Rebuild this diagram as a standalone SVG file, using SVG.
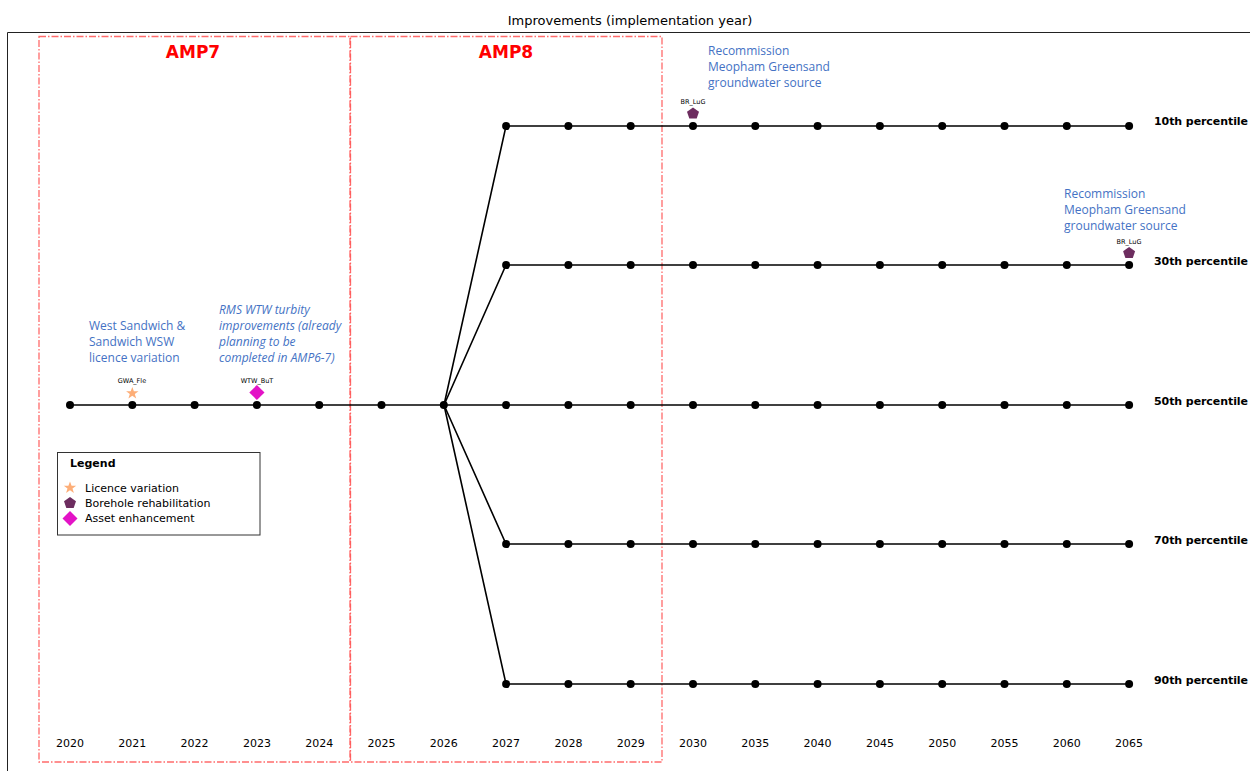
<svg xmlns="http://www.w3.org/2000/svg" width="1250" height="771" viewBox="0 0 1250 771">
<style>
.ax{fill:none;stroke:#222;stroke-width:1}
.amp{fill:none;stroke:#ff5050;stroke-opacity:0.85;stroke-width:1.3;stroke-dasharray:7,2,1.5,2}
.amptxt{font-family:"DejaVu Sans",sans-serif;font-weight:bold;font-size:17px;fill:#ff0000;text-anchor:middle}
.title{font-family:"DejaVu Sans",sans-serif;font-size:13px;fill:#000;text-anchor:middle}
.yr{font-family:"DejaVu Sans",sans-serif;font-size:11px;fill:#000;text-anchor:middle}
.pct{font-family:"DejaVu Sans",sans-serif;font-size:11px;font-weight:bold;fill:#000}
.ln{stroke:#000;stroke-width:1.6;fill:none}
.dot{fill:#000}
.ann{font-family:"Open Sans","Liberation Sans",sans-serif;font-size:12px;fill:#4472c4}
.ital{font-style:italic}
.tag{font-family:"DejaVu Sans",sans-serif;font-size:6.5px;fill:#000;text-anchor:middle}
.leg{font-family:"DejaVu Sans",sans-serif;font-size:11px;fill:#000}
.star{fill:#fdae78}
.pent{fill:#6d2d5f}
.dia{fill:#e313c6}
</style>
<rect width="1250" height="771" fill="#fff"/>
<text class="title" x="630" y="25">Improvements (implementation year)</text>
<path class="ax" d="M7.5,771 V32.5 H1250"/>
<g id="amp7"><rect class="amp" x="39" y="36.5" width="311" height="725.5"/><text class="amptxt" x="193" y="58">AMP7</text></g>
<g id="amp8"><rect class="amp" x="350.5" y="36.5" width="311.5" height="725.5"/><text class="amptxt" x="506" y="58">AMP8</text></g>
<g id="connectors">
<path class="ln" d="M70,405 H1129"/>
<path class="ln" d="M444,405 L506,126 H1129"/>
<path class="ln" d="M444,405 L506,265 H1129"/>
<path class="ln" d="M444,405 L506,544 H1129"/>
<path class="ln" d="M444,405 L506,684 H1129"/>
</g>
<g id="nodes-50">
<circle class="dot" cx="70" cy="405" r="4"/><circle class="dot" cx="132.3" cy="405" r="4"/><circle class="dot" cx="194.6" cy="405" r="4"/><circle class="dot" cx="256.9" cy="405" r="4"/><circle class="dot" cx="319.2" cy="405" r="4"/><circle class="dot" cx="381.5" cy="405" r="4"/><circle class="dot" cx="443.8" cy="405" r="4"/><circle class="dot" cx="506.1" cy="405" r="4"/><circle class="dot" cx="568.4" cy="405" r="4"/><circle class="dot" cx="630.7" cy="405" r="4"/><circle class="dot" cx="693" cy="405" r="4"/><circle class="dot" cx="755.3" cy="405" r="4"/><circle class="dot" cx="817.6" cy="405" r="4"/><circle class="dot" cx="879.9" cy="405" r="4"/><circle class="dot" cx="942.2" cy="405" r="4"/><circle class="dot" cx="1004.5" cy="405" r="4"/><circle class="dot" cx="1066.8" cy="405" r="4"/><circle class="dot" cx="1129.1" cy="405" r="4"/>
</g>
<g id="nodes-10">
<circle class="dot" cx="506.1" cy="126" r="4"/><circle class="dot" cx="568.4" cy="126" r="4"/><circle class="dot" cx="630.7" cy="126" r="4"/><circle class="dot" cx="693" cy="126" r="4"/><circle class="dot" cx="755.3" cy="126" r="4"/><circle class="dot" cx="817.6" cy="126" r="4"/><circle class="dot" cx="879.9" cy="126" r="4"/><circle class="dot" cx="942.2" cy="126" r="4"/><circle class="dot" cx="1004.5" cy="126" r="4"/><circle class="dot" cx="1066.8" cy="126" r="4"/><circle class="dot" cx="1129.1" cy="126" r="4"/>
</g>
<g id="nodes-30">
<circle class="dot" cx="506.1" cy="265" r="4"/><circle class="dot" cx="568.4" cy="265" r="4"/><circle class="dot" cx="630.7" cy="265" r="4"/><circle class="dot" cx="693" cy="265" r="4"/><circle class="dot" cx="755.3" cy="265" r="4"/><circle class="dot" cx="817.6" cy="265" r="4"/><circle class="dot" cx="879.9" cy="265" r="4"/><circle class="dot" cx="942.2" cy="265" r="4"/><circle class="dot" cx="1004.5" cy="265" r="4"/><circle class="dot" cx="1066.8" cy="265" r="4"/><circle class="dot" cx="1129.1" cy="265" r="4"/>
</g>
<g id="nodes-70">
<circle class="dot" cx="506.1" cy="544" r="4"/><circle class="dot" cx="568.4" cy="544" r="4"/><circle class="dot" cx="630.7" cy="544" r="4"/><circle class="dot" cx="693" cy="544" r="4"/><circle class="dot" cx="755.3" cy="544" r="4"/><circle class="dot" cx="817.6" cy="544" r="4"/><circle class="dot" cx="879.9" cy="544" r="4"/><circle class="dot" cx="942.2" cy="544" r="4"/><circle class="dot" cx="1004.5" cy="544" r="4"/><circle class="dot" cx="1066.8" cy="544" r="4"/><circle class="dot" cx="1129.1" cy="544" r="4"/>
</g>
<g id="nodes-90">
<circle class="dot" cx="506.1" cy="684" r="4"/><circle class="dot" cx="568.4" cy="684" r="4"/><circle class="dot" cx="630.7" cy="684" r="4"/><circle class="dot" cx="693" cy="684" r="4"/><circle class="dot" cx="755.3" cy="684" r="4"/><circle class="dot" cx="817.6" cy="684" r="4"/><circle class="dot" cx="879.9" cy="684" r="4"/><circle class="dot" cx="942.2" cy="684" r="4"/><circle class="dot" cx="1004.5" cy="684" r="4"/><circle class="dot" cx="1066.8" cy="684" r="4"/><circle class="dot" cx="1129.1" cy="684" r="4"/>
</g>
<g id="percentiles">
<text class="pct" x="1154" y="125" textLength="94">10th percentile</text>
<text class="pct" x="1154" y="265" textLength="94">30th percentile</text>
<text class="pct" x="1154" y="405" textLength="94">50th percentile</text>
<text class="pct" x="1154" y="544" textLength="94">70th percentile</text>
<text class="pct" x="1154" y="684" textLength="94">90th percentile</text>
</g>
<g id="years">
<text class="yr" x="70" y="747">2020</text><text class="yr" x="132.3" y="747">2021</text><text class="yr" x="194.6" y="747">2022</text><text class="yr" x="256.9" y="747">2023</text><text class="yr" x="319.2" y="747">2024</text><text class="yr" x="381.5" y="747">2025</text><text class="yr" x="443.8" y="747">2026</text><text class="yr" x="506.1" y="747">2027</text><text class="yr" x="568.4" y="747">2028</text><text class="yr" x="630.7" y="747">2029</text><text class="yr" x="693" y="747">2030</text><text class="yr" x="755.3" y="747">2035</text><text class="yr" x="817.6" y="747">2040</text><text class="yr" x="879.9" y="747">2045</text><text class="yr" x="942.2" y="747">2050</text><text class="yr" x="1004.5" y="747">2055</text><text class="yr" x="1066.8" y="747">2060</text><text class="yr" x="1129.1" y="747">2065</text>
</g>
<g id="gwa">
<text class="tag" x="132" y="383">GWA_Fle</text>
<polygon class="star" points="132.3,387 133.9,391.3 138.5,391.3 134.8,394.1 136.2,398.5 132.3,395.8 128.4,398.5 129.8,394.1 126.1,391.3 130.7,391.3"/>
<text class="ann" x="89" y="330">West Sandwich &amp;</text>
<text class="ann" x="89" y="346">Sandwich WSW</text>
<text class="ann" x="89" y="362">licence variation</text>
</g>
<g id="wtw">
<text class="tag" x="257" y="383">WTW_BuT</text>
<polygon class="dia" points="256.9,385 264.5,392.5 256.9,400 249.3,392.5"/>
<text class="ann ital" x="219" y="314">RMS WTW turbity</text>
<text class="ann ital" x="219" y="330">improvements (already</text>
<text class="ann ital" x="219" y="346">planning to be</text>
<text class="ann ital" x="219" y="362">completed in AMP6-7)</text>
</g>
<g id="br1">
<text class="tag" x="693" y="104">BR_LuG</text>
<polygon class="pent" points="693,107.5 699,111.8 696.7,118.5 689.3,118.5 687,111.8"/>
<text class="ann" x="708" y="55">Recommission</text>
<text class="ann" x="708" y="71">Meopham Greensand</text>
<text class="ann" x="708" y="87">groundwater source</text>
</g>
<g id="br2">
<text class="tag" x="1129" y="244">BR_LuG</text>
<polygon class="pent" points="1129.1,247 1135.1,251.3 1132.8,258 1125.4,258 1123.1,251.3"/>
<text class="ann" x="1064" y="198">Recommission</text>
<text class="ann" x="1064" y="214">Meopham Greensand</text>
<text class="ann" x="1064" y="230">groundwater source</text>
</g>
<g id="legend">
<rect x="57.5" y="452.5" width="202.5" height="82.5" fill="#fff" stroke="#333" stroke-width="1"/>
<text class="leg" x="70" y="467" font-weight="bold">Legend</text>
<polygon class="star" points="70,481.5 71.6,485.8 76.2,485.8 72.5,488.6 73.9,493 70,490.3 66.1,493 67.5,488.6 63.8,485.8 68.4,485.8"/>
<text class="leg" x="85" y="492">Licence variation</text>
<polygon class="pent" points="70,497 76,501.3 73.7,508 66.3,508 64,501.3"/>
<text class="leg" x="85" y="507">Borehole rehabilitation</text>
<polygon class="dia" points="70,511 77.5,518.5 70,526 62.5,518.5"/>
<text class="leg" x="85" y="522">Asset enhancement</text>
</g>
</svg>
